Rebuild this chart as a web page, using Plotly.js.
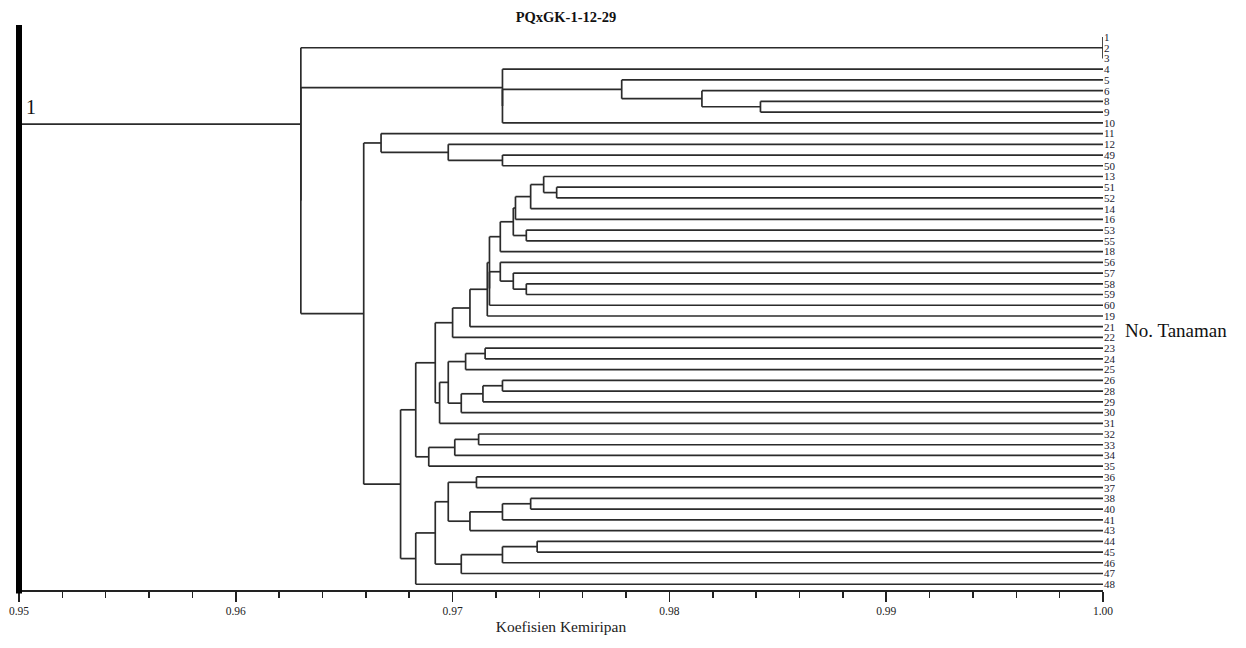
<!DOCTYPE html>
<html>
<head>
<meta charset="utf-8">
<script src="https://cdn.plot.ly/plotly-3.0.1.min.js"></script>
<style>html,body{margin:0;padding:0;background:#fff;}#chart{width:1246px;height:648px;}</style>
</head>
<body>
<div id="chart"></div>
<script>
// Leaf labels, top to bottom
const leafLabels = ['1','2','3','4','5','6','8','9','10','11','12','49','50','13','51','52','14','16','53','55','18','56','57','58','59','60','19','21','22','23','24','25','26','28','29','30','31','32','33','34','35','36','37','38','40','41','43','44','45','46','47','48'];

// Cluster joins: node id, its children (leaf labels or node ids), similarity coefficient
const nodeIds = ['N1','N2','N3','N4','N5','N6','N7','N8','N9','N10','N11','N12','N13','N14','N15','N16','N17','N18','N19','N20','N21','N22','N23','N24','N25','N26','N27','N28','N29','N30','N31','N32','N33','N34','N35','N36','N37','N38','N39','N40','N41','N42','N43','N44','N45','N46','N47','N48','N49','N50'];
const nodeKids = [
  ['1','2','3'], ['8','9'], ['6','N2'], ['5','N3'], ['N4','10'], ['4','N5'],
  ['49','50'], ['12','N7'], ['11','N8'],
  ['51','52'], ['13','N10'], ['N11','14'], ['N12','16'], ['53','55'], ['N13','N14'], ['N15','18'],
  ['58','59'], ['57','N17'], ['56','N18'], ['N19','60'], ['N16','N20'], ['N21','19'], ['N22','21'], ['N23','22'],
  ['23','24'], ['N25','25'], ['26','28'], ['N27','29'], ['N28','30'], ['N26','N29'], ['N30','31'], ['N24','N31'],
  ['32','33'], ['N33','34'], ['N34','35'], ['N32','N35'],
  ['36','37'], ['38','40'], ['N38','41'], ['N39','43'], ['N37','N40'],
  ['44','45'], ['N42','46'], ['N43','47'], ['N41','N44'], ['N45','48'],
  ['N36','N46'], ['N9','N47'], ['N6','N48'], ['N1','N49']
];
const nodeSim = [
  1.0000, 0.9842, 0.9815, 0.9778, 0.9723, 0.9723,
  0.9723, 0.9698, 0.9667,
  0.9748, 0.9742, 0.9736, 0.9729, 0.9734, 0.9728, 0.9722,
  0.9734, 0.9728, 0.9722, 0.9717, 0.9717, 0.9716, 0.9708, 0.9700,
  0.9715, 0.9706, 0.9723, 0.9714, 0.9704, 0.9698, 0.9694, 0.9692,
  0.9712, 0.9701, 0.9689, 0.9683,
  0.9711, 0.9736, 0.9723, 0.9708, 0.9698,
  0.9739, 0.9723, 0.9704, 0.9692, 0.9683,
  0.9676, 0.9659, 0.9630, 0.9630
];
const xTickVals = [0.95, 0.96, 0.97, 0.98, 0.99, 1.00];
const xMin = 0.95, xMax = 1.00;

// Build dendrogram segments
const pos = {};
leafLabels.forEach((l, i) => { pos[l] = {x: xMax, y: i}; });
const lx = [], ly = [];
function seg(x0, y0, x1, y1) { lx.push(x0, x1, null); ly.push(y0, y1, null); }
nodeIds.forEach((id, k) => {
  const kids = nodeKids[k];
  const s = nodeSim[k];
  const first = pos[kids[0]], last = pos[kids[kids.length - 1]];
  const y = (first.y + last.y) / 2;
  seg(s, first.y, s, last.y);
  kids.forEach(c => seg(pos[c].x, pos[c].y, s, pos[c].y));
  pos[id] = {x: s, y: y};
});
const root = pos[nodeIds[nodeIds.length - 1]];
seg(root.x, root.y, xMin, root.y);

const trace = {
  type: 'scatter', mode: 'lines', x: lx, y: ly,
  line: {color: '#2b2b2b', width: 1.7},
  hoverinfo: 'skip', showlegend: false, cliponaxis: false
};

const serif = 'Liberation Serif, Times New Roman, serif';
const layout = {
  width: 1246, height: 648,
  margin: {l: 19, r: 142.5, t: 25, b: 58},
  paper_bgcolor: '#ffffff', plot_bgcolor: '#ffffff',
  showlegend: false,
  title: {
    text: '<b>PQxGK-1-12-29</b>',
    font: {family: serif, size: 14.5, color: '#111'},
    xref: 'container', x: 566 / 1246, xanchor: 'center',
    yref: 'container', y: 1 - 17 / 648, yanchor: 'middle'
  },
  xaxis: {
    range: [xMin, xMax], showgrid: false, zeroline: false,
    showline: true, linecolor: '#222', linewidth: 1.6,
    ticks: 'outside', ticklen: 10, tickwidth: 1.5, tickcolor: '#222',
    tickvals: xTickVals, tickformat: '.2f',
    tickfont: {family: serif, size: 11.5, color: '#222'},
    minor: {dtick: 0.002, tick0: 0.95, ticks: 'outside', ticklen: 6, tickwidth: 1.5, tickcolor: '#222', showgrid: false},
    title: {text: 'Koefisien Kemiripan', font: {family: serif, size: 15.5, color: '#222'}, standoff: 5},
    fixedrange: true
  },
  yaxis: {
    range: [(590 - 37) / 10.73, (25 - 37) / 10.73],
    side: 'right', showgrid: false, zeroline: false, showline: false,
    ticks: '', tickvals: leafLabels.map((_, i) => i), ticktext: leafLabels,
    tickfont: {family: serif, size: 11, color: '#1a1a2e'},
    fixedrange: true
  },
  shapes: [{
    type: 'line', xref: 'paper', yref: 'paper', x0: 0, x1: 0, y0: -0.006, y1: 1,
    line: {color: '#000', width: 6}, layer: 'above'
  }],
  annotations: [
    {text: '1', xref: 'x', x: xMin, xanchor: 'left', xshift: 5, yref: 'y', y: root.y, yanchor: 'bottom', yshift: 4,
     showarrow: false, font: {family: serif, size: 20, color: '#111'}},
    {text: 'No. Tanaman', xref: 'paper', x: 1, xanchor: 'left', xshift: 20, yref: 'paper', y: (590 - 330) / 565, yanchor: 'middle',
     showarrow: false, font: {family: serif, size: 19, color: '#111'}}
  ]
};
Plotly.newPlot('chart', [trace], layout, {displayModeBar: false, staticPlot: true});
</script>
</body>
</html>
